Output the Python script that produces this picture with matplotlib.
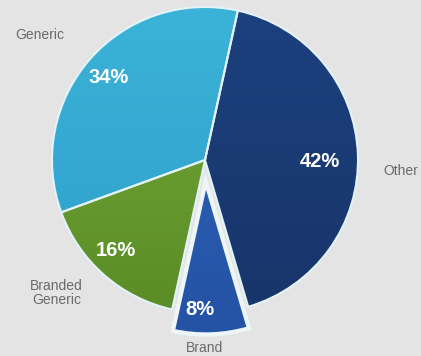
import numpy as np
import matplotlib.pyplot as plt
from matplotlib.colors import LinearSegmentedColormap
from matplotlib.patches import Wedge

labels = ['Other', 'Brand', 'Branded\nGeneric', 'Generic']
shares = [42, 8, 16, 34]
pct_text = ['42%', '8%', '16%', '34%']
top_colors = ['#1d4282', '#2e68bd', '#78ae36', '#3db6da']
bottom_colors = ['#173366', '#2451a3', '#578826', '#2d9cc9']
explode = [0, 0.14, 0, 0]

W, H = 421, 356
cx, cy, r = 205, 196, 153

fig = plt.figure(figsize=(W / 100, H / 100), dpi=100)
fig.patch.set_facecolor('#e4e4e4')
ax = fig.add_axes([0, 0, 1, 1])
ax.set_facecolor('#e4e4e4')

wedges, _ = ax.pie(shares, startangle=77.6, counterclock=False,
                   explode=explode, colors=top_colors,
                   wedgeprops=dict(edgecolor='#e2f2f6', linewidth=1.5))
wedges[1].set_linewidth(3)
wedges[1].set_edgecolor('#eef5f7')

xmin, xmax = -cx / r, (W - cx) / r
ymin, ymax = -cy / r, (H - cy) / r
ax.axis('off')

# vertical gradient inside each wedge
for w, c1, c2 in zip(wedges, top_colors, bottom_colors):
    cmap = LinearSegmentedColormap.from_list('g', [c2, c1])
    grad = np.linspace(0, 1, 256).reshape(-1, 1)
    im = ax.imshow(grad, cmap=cmap, origin='lower', aspect='auto',
                   extent=[-1.3, 1.3, -1.3, 1.3], zorder=w.get_zorder() + 0.1)
    im.set_clip_path(w)
    edge = Wedge(w.center, w.r, w.theta1, w.theta2, facecolor='none',
                 edgecolor=w.get_edgecolor(), linewidth=w.get_linewidth(),
                 zorder=w.get_zorder() + 0.2)
    ax.add_patch(edge)
ax.set_xlim(xmin, xmax)
ax.set_ylim(ymin, ymax)
ax.set_aspect('auto')

# category labels
label_pos = [(1.28, -0.07), (0.0, -1.23), (-0.97, -0.87), (-1.08, 0.82)]
for txt, (x, y) in zip(labels, label_pos):
    ax.text(x, y, txt, ha='center', va='center', fontsize=10,
            color='#6a6a6a', family='Liberation Sans', linespacing=1.0,
            zorder=10)

# percentage labels
pct_pos = [(0.75, -0.01), (-0.03, -0.98), (-0.58, -0.59), (-0.63, 0.54)]
for txt, (x, y) in zip(pct_text, pct_pos):
    ax.text(x, y, txt, ha='center', va='center', fontsize=14.5,
            fontweight='bold', color='white', family='Liberation Sans',
            zorder=10)

fig.savefig('out.png', dpi=100, facecolor=fig.get_facecolor())
